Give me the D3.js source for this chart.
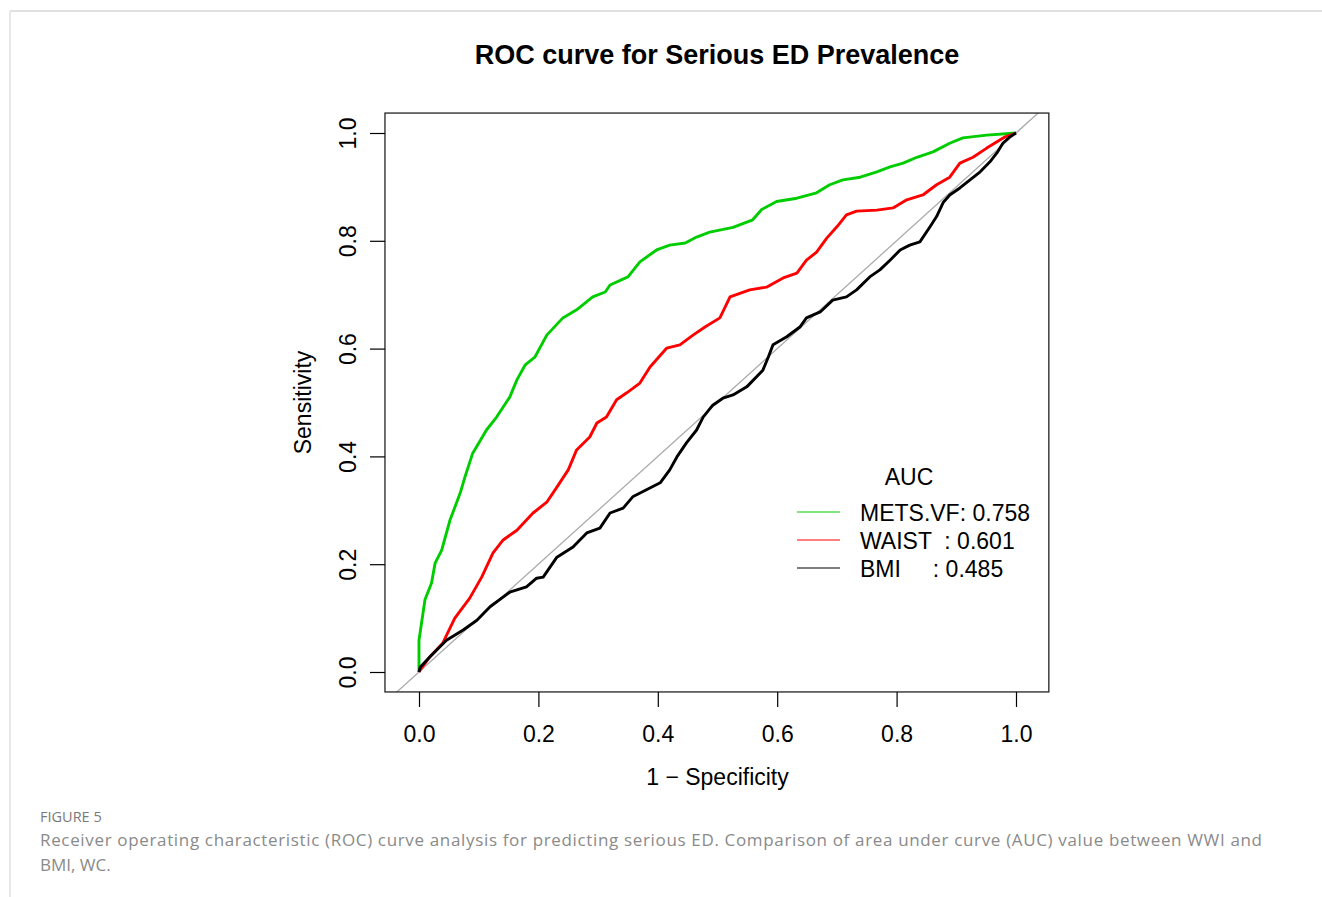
<!DOCTYPE html>
<html>
<head>
  <meta charset="utf-8">
  <title>ROC curve for Serious ED Prevalence</title>
  <script src="https://d3js.org/d3.v7.min.js"></script>
  <style>
    body { margin: 0; background: #fff; }
    svg { display: block; }
    .axis text { font-family: "Liberation Sans", Arial, sans-serif; font-size: 23px; fill: #000; }
    .axis path, .axis line { stroke: #000; stroke-width: 1.2; }
    .roc { fill: none; stroke-width: 2.9; stroke-linejoin: round; }
    .lab { font-family: "Liberation Sans", Arial, sans-serif; font-size: 23px; fill: #000; }
    .cap { font-family: "Open Sans", "Noto Sans", sans-serif; fill: #8a8a8a; }
  </style>
</head>
<body>
<svg width="1322" height="897"></svg>
<script>
  // ROC points: [1 - specificity, sensitivity]
  var metsvf = [[0,0],[0.000,0.059],[0.010,0.134],[0.021,0.165],[0.027,0.202],[0.038,0.226],[0.052,0.282],
    [0.069,0.332],[0.077,0.362],[0.090,0.406],[0.113,0.449],[0.130,0.473],[0.152,0.510],[0.164,0.542],
    [0.178,0.570],[0.194,0.584],[0.214,0.625],[0.241,0.657],[0.264,0.672],[0.291,0.696],[0.312,0.705],
    [0.320,0.718],[0.350,0.733],[0.370,0.761],[0.398,0.783],[0.420,0.792],[0.446,0.796],[0.465,0.807],
    [0.487,0.816],[0.526,0.825],[0.559,0.839],[0.574,0.858],[0.599,0.873],[0.633,0.879],[0.666,0.889],
    [0.688,0.904],[0.710,0.913],[0.739,0.918],[0.767,0.928],[0.789,0.937],[0.811,0.944],[0.834,0.955],
    [0.861,0.965],[0.889,0.981],[0.911,0.991],[0.951,0.996],[1,1]];

  var waist = [[0,0],[0.002,0.004],[0.018,0.028],[0.040,0.054],[0.060,0.100],[0.085,0.137],[0.105,0.176],
    [0.124,0.221],[0.141,0.245],[0.164,0.263],[0.191,0.295],[0.214,0.315],[0.231,0.343],[0.250,0.375],
    [0.264,0.412],[0.286,0.436],[0.298,0.462],[0.314,0.473],[0.331,0.505],[0.348,0.518],[0.370,0.536],
    [0.387,0.566],[0.415,0.601],[0.437,0.607],[0.459,0.625],[0.479,0.640],[0.504,0.657],[0.521,0.696],
    [0.554,0.709],[0.582,0.714],[0.610,0.731],[0.633,0.740],[0.649,0.764],[0.666,0.779],[0.683,0.805],
    [0.700,0.826],[0.716,0.848],[0.733,0.855],[0.767,0.857],[0.794,0.861],[0.817,0.876],[0.844,0.885],
    [0.867,0.904],[0.889,0.918],[0.906,0.944],[0.928,0.955],[0.951,0.972],[0.973,0.987],[0.982,0.993],[1,1]];

  var bmi = [[0,0],[0.002,0.009],[0.018,0.028],[0.046,0.059],[0.074,0.078],[0.097,0.096],[0.119,0.121],
    [0.152,0.148],[0.180,0.158],[0.197,0.174],[0.208,0.176],[0.231,0.213],[0.258,0.232],[0.281,0.258],
    [0.303,0.267],[0.320,0.295],[0.342,0.304],[0.358,0.325],[0.381,0.338],[0.404,0.351],[0.420,0.375],
    [0.432,0.399],[0.448,0.425],[0.465,0.449],[0.476,0.473],[0.492,0.495],[0.509,0.508],[0.526,0.514],
    [0.549,0.529],[0.576,0.560],[0.585,0.584],[0.593,0.607],[0.616,0.622],[0.638,0.640],[0.649,0.657],
    [0.672,0.668],[0.693,0.690],[0.716,0.696],[0.733,0.709],[0.755,0.733],[0.772,0.746],[0.789,0.764],
    [0.806,0.783],[0.822,0.792],[0.839,0.798],[0.856,0.826],[0.867,0.845],[0.878,0.871],[0.889,0.885],
    [0.906,0.898],[0.923,0.913],[0.940,0.928],[0.956,0.946],[0.968,0.963],[0.978,0.981],[0.990,0.993],[1,1]];

  var seriesNames = ["METS.VF: 0.758", "WAIST  : 0.601", "BMI     : 0.485"];
  var seriesColors = ["#00cd00", "#ff0000", "#000000"];
  var tickValues = [0, 0.2, 0.4, 0.6, 0.8, 1.0];

  var svg = d3.select("svg");

  // page frame
  svg.append("line").attr("x1", 10).attr("x2", 1322).attr("y1", 11).attr("y2", 11)
    .attr("stroke", "#e0e0e0").attr("stroke-width", 2);
  svg.append("line").attr("x1", 10).attr("x2", 10).attr("y1", 11).attr("y2", 897)
    .attr("stroke", "#e0e0e0").attr("stroke-width", 1.5);

  // scales (plot region extends a bit past 0..1 like R)
  var x = d3.scaleLinear().domain([0, 1]).range([419, 1016]);
  var y = d3.scaleLinear().domain([0, 1]).range([672, 133]);
  var xLim = [-0.057, 1.055], yLim = [-0.037, 1.037];

  svg.append("defs").append("clipPath").attr("id", "clip")
    .append("rect")
    .attr("x", x(xLim[0])).attr("y", y(yLim[1]))
    .attr("width", x(xLim[1]) - x(xLim[0])).attr("height", y(yLim[0]) - y(yLim[1]));

  var plot = svg.append("g").attr("clip-path", "url(#clip)");

  // diagonal reference
  plot.append("line")
    .attr("x1", x(-0.1)).attr("y1", y(-0.1)).attr("x2", x(1.1)).attr("y2", y(1.1))
    .attr("stroke", "#ababab").attr("stroke-width", 1.3);

  var line = d3.line()
    .x(function(d) { return x(d[0]); })
    .y(function(d) { return y(d[1]); });

  [metsvf, waist, bmi].forEach(function(s, i) {
    plot.append("path").datum(s)
      .attr("class", "roc")
      .attr("stroke", seriesColors[i])
      .attr("d", line);
  });

  // box
  svg.append("rect")
    .attr("x", x(xLim[0])).attr("y", y(yLim[1]))
    .attr("width", x(xLim[1]) - x(xLim[0])).attr("height", y(yLim[0]) - y(yLim[1]))
    .attr("fill", "none").attr("stroke", "#222").attr("stroke-width", 1.3);

  // axes
  var xAxis = d3.axisBottom(x).tickValues(tickValues).tickFormat(d3.format(".1f"))
    .tickSize(15).tickSizeOuter(0).tickPadding(19);
  svg.append("g").attr("class", "axis")
    .attr("transform", "translate(0," + y(yLim[0]) + ")")
    .call(xAxis)
    .call(function(g) { g.select(".domain").remove(); });

  var yAxis = d3.axisLeft(y).tickValues(tickValues).tickFormat(d3.format(".1f"))
    .tickSize(15).tickSizeOuter(0);
  svg.append("g").attr("class", "axis")
    .attr("transform", "translate(" + x(xLim[0]) + ",0)")
    .call(yAxis)
    .call(function(g) {
      g.select(".domain").remove();
      g.selectAll(".tick text")
        .attr("transform", "rotate(-90)")
        .attr("x", 0).attr("y", -29).attr("dy", 0)
        .attr("text-anchor", "middle");
    });

  // title and axis labels
  svg.append("text").attr("x", 717).attr("y", 64)
    .attr("text-anchor", "middle")
    .style("font-family", "'Liberation Sans', Arial, sans-serif")
    .style("font-size", "27px").style("font-weight", "bold")
    .text("ROC curve for Serious ED Prevalence");

  svg.append("text").attr("class", "lab")
    .attr("x", x(0.5)).attr("y", 785).attr("text-anchor", "middle")
    .text("1 \u2212 Specificity");

  svg.append("text").attr("class", "lab")
    .attr("transform", "translate(311," + y(0.5) + ") rotate(-90)")
    .attr("text-anchor", "middle")
    .text("Sensitivity");

  // legend
  var legend = svg.append("g");
  legend.append("text").attr("class", "lab").attr("x", 909).attr("y", 485)
    .attr("text-anchor", "middle").text("AUC");
  seriesNames.forEach(function(name, i) {
    var ly = 512 + i * 28;
    legend.append("line").attr("x1", 797).attr("x2", 840).attr("y1", ly).attr("y2", ly)
      .attr("stroke", seriesColors[i]).attr("stroke-width", 1.2);
    legend.append("text").attr("class", "lab").attr("x", 860).attr("y", ly + 9)
      .attr("xml:space", "preserve").style("white-space", "pre")
      .text(name);
  });

  // caption
  svg.append("text").attr("class", "cap").attr("x", 40).attr("y", 822)
    .style("font-size", "14.5px").style("font-weight", "500").style("fill", "#7a7a7a")
    .text("FIGURE 5");
  svg.append("text").attr("class", "cap").attr("x", 40).attr("y", 846)
    .style("font-size", "17px")
    .attr("textLength", 1222).attr("lengthAdjust", "spacing")
    .text("Receiver operating characteristic (ROC) curve analysis for predicting serious ED. Comparison of area under curve (AUC) value between WWI and");
  svg.append("text").attr("class", "cap").attr("x", 40).attr("y", 871)
    .style("font-size", "17px")
    .text("BMI, WC.");
</script>
</body>
</html>
